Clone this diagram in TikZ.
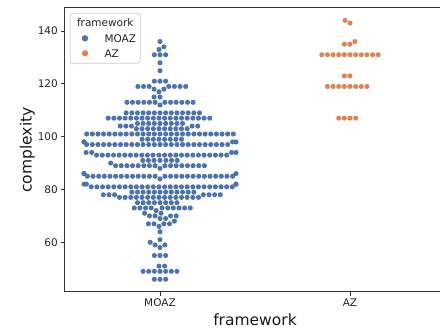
\documentclass[tikz,border=0pt]{standalone}
\usepackage{fontspec}
\setmainfont{DejaVu Sans}
\definecolor{swblue}{HTML}{4C72B0}
\definecolor{sworange}{HTML}{DD8452}

\newcommand\swdot[3]{\fill[#3] (#1,#2) circle[radius=2.55];}

\ExplSyntaxOn
% Beeswarm layout. Offsets are integers in hundredths of a pixel,
% measured from the category centre. Values are integers, so a marker
% can only collide with markers of the same value or of a value one or
% two units lower.
\int_new:N \l__sw_best_int
\int_new:N \l__sw_bestabs_int
\int_new:N \l__sw_k_int
\int_new:N \l__sw_c_int
\bool_new:N \l__sw_ok_bool
\clist_new:N \l__sw_ra_clist
\clist_new:N \l__sw_rb_clist
\clist_new:N \l__sw_rc_clist
\tl_new:N \l__sw_x_tl
\tl_new:N \l__sw_y_tl
% overlap thresholds for rows two, one and zero units apart
\int_const:Nn \c__sw_ta_int { 98 }
\int_const:Nn \c__sw_tb_int { 468 }
\int_const:Nn \c__sw_tc_int { 537 }
% candidate offsets next to a neighbour in those rows
\int_const:Nn \c__sw_da_int { 103 }
\int_const:Nn \c__sw_db_int { 491 }
\int_const:Nn \c__sw_dc_int { 564 }

\cs_new_protected:Npn \__sw_check:
  {
    \bool_set_true:N \l__sw_ok_bool
    \clist_map_inline:Nn \l__sw_rc_clist
      {
        \int_compare:nNnT { \int_abs:n { \l__sw_c_int - (##1) } } < \c__sw_tc_int
          { \bool_set_false:N \l__sw_ok_bool \clist_map_break: }
      }
    \bool_if:NT \l__sw_ok_bool
      {
        \clist_map_inline:Nn \l__sw_rb_clist
          {
            \int_compare:nNnT { \int_abs:n { \l__sw_c_int - (##1) } } < \c__sw_tb_int
              { \bool_set_false:N \l__sw_ok_bool \clist_map_break: }
          }
      }
    \bool_if:NT \l__sw_ok_bool
      {
        \clist_map_inline:Nn \l__sw_ra_clist
          {
            \int_compare:nNnT { \int_abs:n { \l__sw_c_int - (##1) } } < \c__sw_ta_int
              { \bool_set_false:N \l__sw_ok_bool \clist_map_break: }
          }
      }
  }
\cs_new_protected:Npn \__sw_test:n #1
  {
    \int_set:Nn \l__sw_c_int { #1 }
    \int_compare:nNnT { \int_abs:n { \l__sw_c_int } } < \l__sw_bestabs_int
      {
        \__sw_check:
        \bool_if:NT \l__sw_ok_bool
          {
            \int_set_eq:NN \l__sw_best_int \l__sw_c_int
            \int_set:Nn \l__sw_bestabs_int { \int_abs:n { \l__sw_c_int } }
          }
      }
  }
\cs_new_protected:Npn \__sw_pair:nn #1 #2
  {
    \int_if_even:nTF { \l__sw_k_int }
      { \__sw_test:n { #1 - #2 } \__sw_test:n { #1 + #2 } }
      { \__sw_test:n { #1 + #2 } \__sw_test:n { #1 - #2 } }
    \int_incr:N \l__sw_k_int
  }
\cs_new_protected:Npn \__sw_place:
  {
    \int_set:Nn \l__sw_bestabs_int { 1000000000 }
    \int_zero:N \l__sw_best_int
    \int_zero:N \l__sw_k_int
    \__sw_test:n { 0 }
    \clist_map_inline:Nn \l__sw_ra_clist { \__sw_pair:nn { ##1 } { \c__sw_da_int } }
    \clist_map_inline:Nn \l__sw_rb_clist { \__sw_pair:nn { ##1 } { \c__sw_db_int } }
    \clist_map_inline:Nn \l__sw_rc_clist { \__sw_pair:nn { ##1 } { \c__sw_dc_int } }
    \clist_put_right:Nx \l__sw_rc_clist { \int_use:N \l__sw_best_int }
  }
\cs_new_protected:Npn \__sw_getrow:Nn #1 #2
  {
    \clist_if_exist:cTF { #2 }
      { \clist_set_eq:Nc #1 { #2 } }
      { \clist_clear:N #1 }
  }
% \swvalue{category}{value}{count}; values in ascending order
\cs_new_protected:Npn \swvalue #1 #2 #3
  {
    \seq_if_exist:cF { g__sw_#1_seq } { \seq_new:c { g__sw_#1_seq } }
    \__sw_getrow:Nn \l__sw_ra_clist { g__sw_#1_ \int_eval:n { #2 - 2 } _clist }
    \__sw_getrow:Nn \l__sw_rb_clist { g__sw_#1_ \int_eval:n { #2 - 1 } _clist }
    \__sw_getrow:Nn \l__sw_rc_clist { g__sw_#1_ \int_eval:n { #2 } _clist }
    \prg_replicate:nn { #3 } { \__sw_place: }
    \clist_if_exist:cF { g__sw_#1_ \int_eval:n { #2 } _clist }
      {
        \clist_new:c { g__sw_#1_ \int_eval:n { #2 } _clist }
        \seq_gput_right:cx { g__sw_#1_seq } { \int_eval:n { #2 } }
      }
    \clist_gset_eq:cN { g__sw_#1_ \int_eval:n { #2 } _clist } \l__sw_rc_clist
  }
\cs_new_protected:Npn \__sw_item:nw #1 #2 / #3 \q_stop { \swvalue {#1} {#2} {#3} }
\cs_new_protected:Npn \swdata #1 #2
  { \clist_map_inline:nn {#2} { \__sw_item:nw {#1} ##1 \q_stop } }

% drawing: markers beyond 76 px from the centre sit on the gutter
\cs_new_protected:Npn \__sw_dot:nnnn #1 #2 #3 #4
  {
    \tl_set:Nx \l__sw_x_tl
      { \fp_eval:n { #1 + ( \int_max:nn { -7600 } { \int_min:nn { 7600 } { #3 } } ) / 100 } }
    \tl_set:Nx \l__sw_y_tl { \fp_eval:n { 31 + ( 140 - #2 ) * 2.641 } }
    \swdot { \l__sw_x_tl } { \l__sw_y_tl } { #4 }
  }
\cs_new_protected:Npn \__sw_row:nnnn #1 #2 #3 #4
  { \clist_map_inline:cn { g__sw_#1_#4_clist } { \__sw_dot:nnnn {#2} {#4} {##1} {#3} } }
\cs_new_protected:Npn \swdraw #1 #2 #3
  { \seq_map_inline:cn { g__sw_#1_seq } { \__sw_row:nnnn {#1} {#2} {#3} {##1} } }
\ExplSyntaxOff

% value/count pairs
\swdata{MOAZ}{46/3, 49/7, 51/2, 55/3, 58/1, 59/2, 60/1, 61/1, 64/1, 66/1, 67/4,
  68/1, 69/2, 70/4, 71/2, 72/1, 73/10, 75/8, 77/15, 78/7, 79/12, 81/26, 82/4,
  84/1, 85/26, 86/3, 88/1, 89/16, 90/1, 91/7, 93/24, 94/4, 97/26, 98/4, 99/8,
  101/27, 103/10, 104/5, 105/9, 107/19, 109/14, 112/1, 113/12, 115/2, 117/1,
  118/2, 119/7, 121/3, 125/1, 128/1, 131/3, 133/1, 134/1, 136/1}
\swdata{AZ}{107/4, 119/8, 123/2, 131/11, 135/2, 136/1, 143/1, 144/1}

\tikzset{
  spine/.style={draw=black!80, line width=0.9pt},
  tickmark/.style={draw=black!80, line width=0.8pt},
  ticklabel/.style={font=\fontsize{10.5}{12}\selectfont, text=black!85, inner sep=0pt},
  axislabel/.style={font=\fontsize{15.5}{18}\selectfont, text=black!90, inner sep=0pt},
  legendtext/.style={font=\fontsize{10.5}{12}\selectfont, text=black!85, inner sep=0pt},
}

\begin{document}
\begin{tikzpicture}[x=1pt, y=-1pt]
\useasboundingbox (0,0) rectangle (440,330);
\fill[white] (0,0) rectangle (440,330);

% markers
\swdraw{MOAZ}{160}{swblue}
\swdraw{AZ}{350}{sworange}

% frame
\draw[spine] (64.5,7.5) rectangle (445.5,291.8);

% value axis
\foreach \v/\n in {60/t60, 80/t80, 100/t100, 120/t120, 140/t140} {
  \coordinate (\n) at (64.5, {31+(140-\v)*2.641});
  \draw[tickmark] (\n) -- ++(-3.7,0);
  \node[ticklabel, anchor=base east] (\n lab) at ([xshift=-6.5pt, yshift=-3.8pt]\n) {\v};
}
% category axis
\coordinate (cm) at (160,291.8);
\coordinate (ca) at (350,291.8);
\draw[tickmark] (cm) -- ++(0,3.7);
\draw[tickmark] (ca) -- ++(0,3.7);
\node[ticklabel, anchor=base] (cmlab) at (160,306.8) {MOAZ};
\node[ticklabel, anchor=base] (calab) at (350,306.8) {AZ};

\node[axislabel, anchor=base] (xlab) at (255,325) {framework};
\node[axislabel, rotate=90, anchor=base] (ylab) at (31.5,150) {complexity};

% legend
\draw[draw=black!20, fill=white, fill opacity=0.8, rounded corners=2.5pt, line width=0.8pt]
  (70.3,13.3) rectangle (140.3,63.3);
\node[legendtext, anchor=base] (legtitle) at (105.3,26) {framework};
\fill[swblue] (85,38.3) circle[radius=3.2];
\node[legendtext, anchor=base west] (legm) at (104.3,42) {MOAZ};
\fill[sworange] (85,53.3) circle[radius=3.2];
\node[legendtext, anchor=base west] (lega) at (104.3,57) {AZ};
\end{tikzpicture}
\end{document}
